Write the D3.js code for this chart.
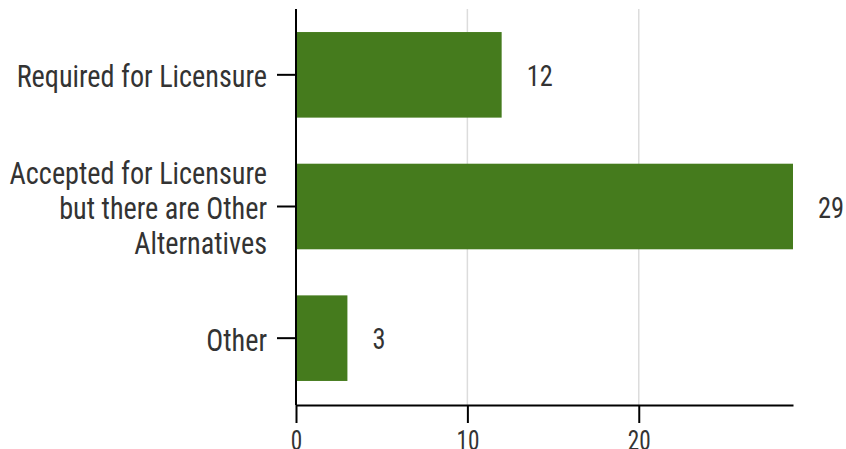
<!DOCTYPE html>
<html>
<head>
<meta charset="utf-8">
<script src="https://cdn.jsdelivr.net/npm/d3@7"></script>
<style>
  body { margin: 0; background: #fff; }
  text { font-family: "Roboto Condensed", Roboto, sans-serif; fill: #333; }
</style>
</head>
<body>
<div class="chart"></div>
<script>
// horizontal bar chart

var categories = ["Required for Licensure",
                  "Accepted for Licensure but there are Other Alternatives",
                  "Other"];
var values = [12, 29, 3];
var xTicks = [0, 10, 20];

var W = 846, H = 449;
var margin = {top: 9, right: 53, bottom: 44, left: 296};
var squeeze = 0.86; // fake condensed font
var squeezeLab = 0.91;

var x = d3.scaleLinear().domain([0, 29]).range([margin.left, W - margin.right]);
var y = d3.scaleBand().domain(categories)
    .range([margin.top, H - margin.bottom - 1])
    .paddingInner(0.35).paddingOuter(0.175);

var svg = d3.select(".chart").append("svg")
    .attr("width", W).attr("height", H);

/* grid */
svg.append("g").selectAll("line")
    .data(xTicks.filter(function(d) { return d > 0; }))
    .enter().append("line")
    .attr("x1", function(d) { return x(d); })
    .attr("x2", function(d) { return x(d); })
    .attr("y1", margin.top)
    .attr("y2", H - margin.bottom)
    .attr("stroke", "#dcdcdc")
    .attr("stroke-width", 1.5);

/* bars */
var data = categories.map(function(c, i) { return {cat: c, v: values[i]}; });

svg.append("g").selectAll("rect")
    .data(data).enter().append("rect")
    .attr("x", x(0))
    .attr("y", function(d) { return y(d.cat); })
    .attr("width", function(d) { return x(d.v) - x(0); })
    .attr("height", y.bandwidth())
    .attr("fill", "#457b1d");

/* value labels */
svg.append("g").selectAll("g")
    .data(data).enter().append("g")
    .attr("transform", function(d) {
        return "translate(" + (x(d.v) + 25) + "," + (y(d.cat) + y.bandwidth() / 2) + ") scale(" + squeezeLab + ",1)";
    })
    .append("text")
    .attr("dy", "0.38em")
    .style("font-size", "29px")
    .text(function(d) { return d.v; });

/* x axis */
var xAxis = svg.append("g")
    .attr("transform", "translate(0," + (H - margin.bottom) + ")")
    .call(d3.axisBottom(x).tickValues(xTicks).tickSize(18).tickSizeOuter(0).tickFormat(""));
xAxis.select(".domain").attr("stroke", "#000").attr("stroke-width", 2);
xAxis.selectAll(".tick line").attr("stroke", "#000").attr("stroke-width", 2);
xAxis.selectAll(".tick").append("g")
    .attr("transform", "translate(0,45) scale(" + squeeze + ",1)")
    .append("text")
    .attr("text-anchor", "middle")
    .style("font-size", "27px")
    .text(function(d) { return d; });

/* y axis */
var yAxis = svg.append("g")
    .attr("transform", "translate(" + x(0) + ",0)")
    .call(d3.axisLeft(y).tickSize(19).tickSizeOuter(0).tickFormat(""));
yAxis.select(".domain").attr("stroke", "#000").attr("stroke-width", 2)
    .attr("d", "M0," + margin.top + "V" + (H - margin.bottom));
yAxis.selectAll(".tick line").attr("stroke", "#000").attr("stroke-width", 2);

// wrap labels at ~265px
var lineH = 35;
yAxis.selectAll(".tick").each(function(cat) {
    var g = d3.select(this).append("g")
        .attr("transform", "translate(-29,0) scale(" + squeezeLab + ",1)");
    var t = g.append("text").attr("text-anchor", "end").style("font-size", "31px");
    var words = cat.split(" "), lines = [], cur = [];
    var probe = t.append("tspan");
    words.forEach(function(w) {
        probe.text(cur.concat(w).join(" "));
        if (probe.node().getComputedTextLength() * squeezeLab > 265 && cur.length) {
            lines.push(cur.join(" "));
            cur = [w];
        } else {
            cur.push(w);
        }
    });
    lines.push(cur.join(" "));
    probe.remove();
    var y0 = -(lines.length - 1) * lineH / 2;
    lines.forEach(function(l, i) {
        t.append("tspan").attr("x", 0)
            .attr("y", y0 + i * lineH)
            .attr("dy", "0.4em")
            .text(l);
    });
});
</script>
</body>
</html>
